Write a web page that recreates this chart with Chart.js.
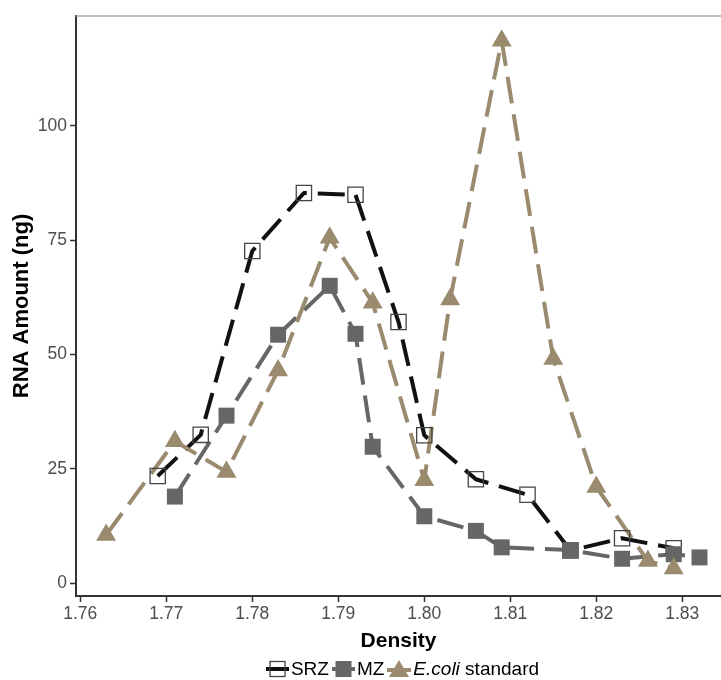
<!DOCTYPE html>
<html>
<head>
<meta charset="utf-8">
<script src="https://cdn.jsdelivr.net/npm/chart.js@4.4.1/dist/chart.umd.min.js"></script>
<style>
body { margin: 0; background: #fff; font-family: "Liberation Sans", Arial, sans-serif; overflow: hidden; }
#wrap { position: relative; width: 721px; height: 680px; }
#grafico { display: block; }
#leyenda { position: absolute; left: 77px; width: 644px; top: 659px; display: flex; justify-content: center; align-items: center; font-size: 19px; line-height: 20px; color: #000; padding-left: 10px; box-sizing: border-box; }
.item { display: flex; align-items: center; margin-right: 3px; }
.item svg { margin-right: 2px; }
</style>
</head>
<body>
<div id="wrap">
  <canvas id="grafico" width="721" height="680"></canvas>
  <div id="leyenda">
    <span class="item"><svg width="23" height="20"><line x1="0" y1="10" x2="23" y2="10" stroke="#111" stroke-width="4"/><rect x="4" y="2.5" width="15" height="15" fill="none" stroke="#444" stroke-width="1.3"/></svg>SRZ</span>
    <span class="item"><svg width="23" height="20"><line x1="0" y1="10" x2="23" y2="10" stroke="#666" stroke-width="4"/><rect x="3.5" y="2" width="16" height="16" fill="#666"/></svg>MZ</span>
    <span class="item"><svg width="24" height="20"><line x1="0" y1="11" x2="24" y2="11" stroke="#9a8a6e" stroke-width="4"/><polygon points="12,1 22,18 2,18" fill="#9a8a6e"/></svg><i>E.coli</i>&nbsp;standard</span>
  </div>
</div>
<script>
// datos (densidad vs cantidad de RNA)
const srzDensidad = [1.769, 1.774, 1.780, 1.786, 1.792, 1.797, 1.800, 1.806, 1.812, 1.817, 1.823, 1.829];
const srzRNA = [23.4, 32.4, 72.6, 85.3, 84.9, 57.1, 32.3, 22.7, 19.3, 7.1, 9.8, 7.6];

const mzDensidad = [1.771, 1.777, 1.783, 1.789, 1.792, 1.794, 1.800, 1.806, 1.809, 1.817, 1.823, 1.829, 1.832];
const mzRNA = [18.9, 36.6, 54.3, 65.0, 54.5, 29.8, 14.6, 11.4, 7.8, 7.2, 5.3, 6.3, 5.6];

const ecoliDensidad = [1.763, 1.771, 1.777, 1.783, 1.789, 1.794, 1.800, 1.803, 1.809, 1.815, 1.820, 1.826, 1.829];
const ecoliRNA = [10.5, 31.0, 24.3, 46.5, 75.5, 61.3, 22.5, 62.0, 118.6, 49.0, 21.0, 4.8, 3.2];

const xTickLabels = ["1.76", "1.77", "1.78", "1.79", "1.80", "1.81", "1.82", "1.83"];
const yTickLabels = ["0", "25", "50", "75", "100"];

const colorSRZ = '#111111';
const colorMZ = '#666666';
const colorEcoli = '#9a8a6e';

function serie(xs, ys) {
    return xs.map((x, i) => ({ x: x, y: ys[i] }));
}

// linea discontinua de cada serie
function linea(xs, ys, color, orden) {
    return {
        data: serie(xs, ys),
        borderColor: color,
        borderWidth: 4,
        borderDash: [27, 11],
        borderJoinStyle: 'round',
        pointRadius: 0,
        fill: false,
        tension: 0,
        order: orden
    };
}

// puntos por encima de todas las lineas
function puntos(xs, ys, estilo, radio, relleno, borde, anchoBorde, orden) {
    return {
        data: serie(xs, ys),
        showLine: false,
        pointStyle: estilo,
        pointRadius: radio,
        pointBackgroundColor: relleno,
        pointBorderColor: borde,
        pointBorderWidth: anchoBorde,
        order: orden
    };
}

const bordeSuperior = {
    id: 'bordeSuperior',
    afterDraw(chart) {
        const { ctx, chartArea } = chart;
        ctx.save();
        ctx.strokeStyle = '#aaaaaa';
        ctx.lineWidth = 1.5;
        ctx.beginPath();
        ctx.moveTo(chartArea.left, chartArea.top);
        ctx.lineTo(chartArea.right, chartArea.top);
        ctx.stroke();
        ctx.restore();
    }
};

const fuenteTicks = { family: '"Liberation Sans", Arial, sans-serif', size: 17.5 };
const fuenteTitulo = { family: '"Liberation Sans", Arial, sans-serif', size: 21, weight: 'bold' };

new Chart(document.getElementById('grafico'), {
    type: 'line',
    data: {
        datasets: [
            linea(srzDensidad, srzRNA, colorSRZ, 6),
            linea(mzDensidad, mzRNA, colorMZ, 5),
            linea(ecoliDensidad, ecoliRNA, colorEcoli, 4),
            puntos(srzDensidad, srzRNA, 'rect', 10.8, 'rgba(0,0,0,0)', '#444444', 1.3, 3),
            puntos(mzDensidad, mzRNA, 'rect', 11.3, colorMZ, colorMZ, 0, 2),
            puntos(ecoliDensidad, ecoliRNA, 'triangle', 11.5, colorEcoli, colorEcoli, 0, 1)
        ]
    },
    options: {
        responsive: false,
        animation: false,
        layout: { autoPadding: false, padding: { top: 16, right: 0, bottom: 24, left: 0 } },
        plugins: { legend: { display: false }, tooltip: { enabled: false } },
        scales: {
            x: {
                type: 'linear',
                min: 1.7595,
                max: 1.8345,
                afterBuildTicks: s => { s.ticks = xTickLabels.map(t => ({ value: parseFloat(t) })); },
                afterFit: s => { s.height = 60; s.paddingLeft = 0; s.paddingRight = 0; },
                border: { color: '#333', width: 2 },
                grid: { drawOnChartArea: false, tickLength: 6, tickColor: '#333', tickWidth: 1.5 },
                ticks: { font: fuenteTicks, color: '#4d4d4d', padding: 2, maxRotation: 0, autoSkip: false,
                         callback: (v, i) => xTickLabels[i] },
                title: { display: true, text: 'Density', font: fuenteTitulo, color: '#000', padding: { top: 0, bottom: 2 } }
            },
            y: {
                type: 'linear',
                min: -2.84,
                max: 124,
                afterBuildTicks: s => { s.ticks = yTickLabels.map(t => ({ value: parseFloat(t) })); },
                afterFit: s => { s.width = 76; s.paddingTop = 0; s.paddingBottom = 0; },
                border: { color: '#333', width: 2 },
                grid: { drawOnChartArea: false, tickLength: 6, tickColor: '#333', tickWidth: 1.5 },
                ticks: { font: fuenteTicks, color: '#4d4d4d', padding: 3, callback: (v, i) => yTickLabels[i] },
                title: { display: true, text: 'RNA Amount (ng)', font: { ...fuenteTitulo, size: 22 }, color: '#000', padding: { top: 9, bottom: 0 } }
            }
        }
    },
    plugins: [bordeSuperior]
});
</script>
</body>
</html>
